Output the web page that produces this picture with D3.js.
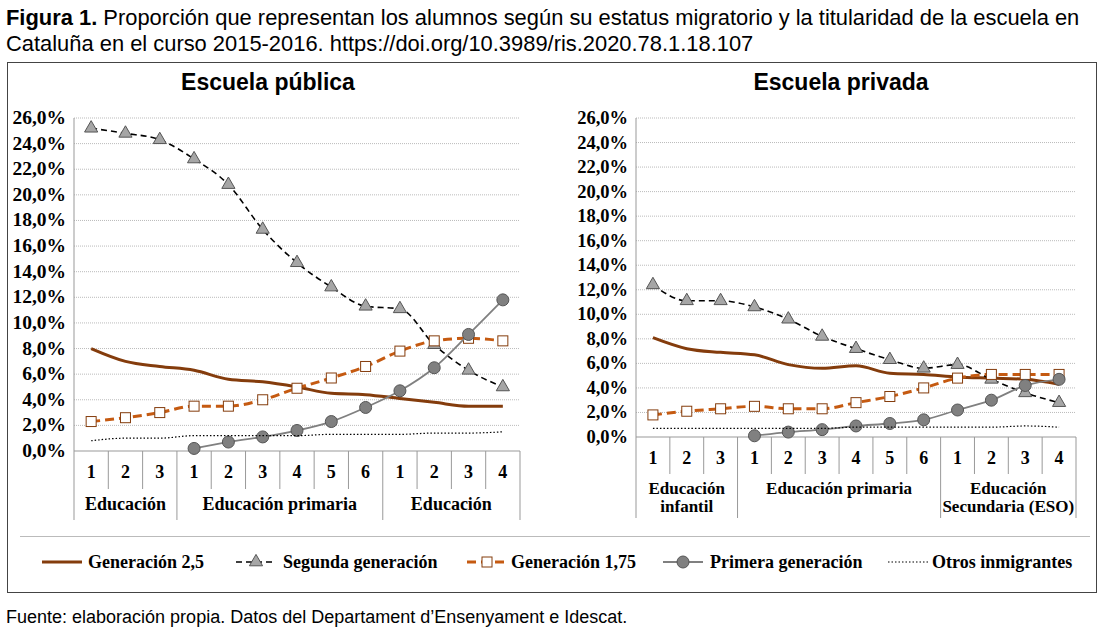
<!DOCTYPE html><html><head><meta charset="utf-8"><script src="https://cdn.jsdelivr.net/npm/d3@7"></script>
<style>body{margin:0;background:#fff}</style></head><body><svg id="c" width="1109" height="630"></svg>
<script>
const grades=["1","2","3","1","2","3","4","5","6","1","2","3","4"];
const yTicks=[0,2,4,6,8,10,12,14,16,18,20,22,24,26];
const pubGen25=[8.0,7.0,6.6,6.3,5.6,5.4,5.0,4.5,4.4,4.1,3.8,3.5,3.5];
const pubSegunda=[25.2,24.8,24.3,22.8,20.8,17.3,14.7,12.8,11.3,11.1,8.3,6.3,5.0];
const pubGen175=[2.3,2.6,3.0,3.5,3.5,4.0,4.9,5.7,6.6,7.8,8.6,8.8,8.6];
const pubPrimera=[null,null,null,0.2,0.7,1.1,1.6,2.3,3.4,4.7,6.5,9.1,11.8];
const pubOtros=[0.8,1.0,1.0,1.2,1.2,1.2,1.2,1.3,1.3,1.3,1.4,1.4,1.5];
const priGen25=[8.1,7.2,6.9,6.7,5.9,5.6,5.8,5.2,5.1,4.9,4.8,4.7,4.3];
const priSegunda=[12.4,11.1,11.1,10.6,9.6,8.2,7.2,6.3,5.6,5.9,4.7,3.6,2.8];
const priGen175=[1.8,2.1,2.3,2.5,2.3,2.3,2.8,3.3,4.0,4.8,5.1,5.1,5.1];
const priPrimera=[null,null,null,0.1,0.4,0.6,0.9,1.1,1.4,2.2,3.0,4.2,4.7];
const priOtros=[0.7,0.7,0.7,0.7,0.7,0.7,0.8,0.8,0.8,0.8,0.8,0.9,0.8];
const seriesNames=["Generación 2,5","Segunda generación","Generación 1,75","Primera generación","Otros inmigrantes"];

const svg=d3.select("#c");
const sans="'Liberation Sans',Arial,sans-serif", serif="'Liberation Serif','Times New Roman',serif";
svg.append("text").attr("x",6).attr("y",25).attr("font-family",sans).attr("font-size",21.9)
 .html('<tspan font-weight="bold">Figura 1.</tspan> Proporción que representan los alumnos según su estatus migratorio y la titularidad de la escuela en');
svg.append("text").attr("x",6).attr("y",51).attr("font-family",sans).attr("font-size",21.9)
 .text("Cataluña en el curso 2015-2016. https://doi.org/10.3989/ris.2020.78.1.18.107");
svg.append("text").attr("x",6).attr("y",623).attr("font-family",sans).attr("font-size",18)
 .text("Fuente: elaboración propia. Datos del Departament d’Ensenyament e Idescat.");
svg.append("rect").attr("x",7.5).attr("y",62.5).attr("width",1089).attr("height",530).attr("fill","none").attr("stroke","#444");
svg.append("line").attr("x1",20).attr("x2",1090).attr("y1",536.5).attr("y2",536.5).attr("stroke","#bbb");

const styles=[
 {c:"#843C0C",w:3,dash:null,m:null},
 {c:"#000",w:1.6,dash:"6,4",m:"tri"},
 {c:"#C55A11",w:3,dash:"9,5",m:"sq"},
 {c:"#808080",w:1.8,dash:null,m:"circ"},
 {c:"#000",w:1.2,dash:"1.5,2",m:null}];

function marker(g,type,x,y,s){
 if(type==="tri") g.append("path").attr("d",d3.symbol(d3.symbolTriangle,s||75)()).attr("transform",`translate(${x},${y})`).attr("fill","#a6a6a6").attr("stroke","#555");
 if(type==="sq") g.append("rect").attr("x",x-5).attr("y",y-5).attr("width",10).attr("height",10).attr("fill","#fff").attr("stroke","#843C0C");
 if(type==="circ") g.append("circle").attr("cx",x).attr("cy",y).attr("r",6).attr("fill","#808080").attr("stroke","#555");
}

function panel(o){
 const g=svg.append("g");
 const x=d3.scaleBand().domain(d3.range(13)).range([o.x0,o.x1]);
 const y=d3.scaleLinear().domain([0,26]).range([o.y0,o.y1]);
 g.append("text").attr("x",o.tx).attr("y",90).attr("text-anchor","middle").attr("font-family",sans).attr("font-weight","bold").attr("font-size",23).text(o.title);
 yTicks.forEach(t=>{
  if(t>0) g.append("line").attr("x1",o.x0).attr("x2",o.x1).attr("y1",y(t)).attr("y2",y(t)).attr("stroke","#bbb").attr("stroke-dasharray","1,1");
  g.append("text").attr("x",o.x0-8).attr("y",y(t)+6).attr("text-anchor","end").attr("font-family",serif).attr("font-weight","bold").attr("font-size",o.fs).text(t.toFixed(1).replace(".",",")+"%");
 });
 g.append("line").attr("x1",o.x0).attr("x2",o.x0).attr("y1",y(26)).attr("y2",o.sepEnd).attr("stroke","#999");
 g.append("line").attr("x1",o.x0).attr("x2",o.x1).attr("y1",y(0)).attr("y2",y(0)).attr("stroke","#999");
 d3.range(1,14).forEach(i=>{
  const xx=o.x0+i*x.bandwidth();
  const big=(i===3||i===9||i===13);
  g.append("line").attr("x1",xx).attr("x2",xx).attr("y1",y(0)).attr("y2",big?o.sepEnd:o.gradeEnd).attr("stroke","#999");
 });
 grades.forEach((t,i)=>g.append("text").attr("x",x(i)+x.bandwidth()/2).attr("y",o.gy).attr("text-anchor","middle").attr("font-family",serif).attr("font-weight","bold").attr("font-size",18).text(t));
 o.groups.forEach(gr=>{
  const cx=o.x0+(gr.a+gr.b)/2*x.bandwidth();
  gr.lines.forEach((l,k)=>g.append("text").attr("x",cx).attr("y",gr.y+k*18).attr("text-anchor","middle").attr("font-family",serif).attr("font-weight","bold").attr("font-size",o.gfs).text(l));
 });
 o.data.forEach((d,si)=>{
  const st=styles[si];
  const line=d3.line().defined(v=>v!=null).x((v,i)=>x(i)+x.bandwidth()/2).y(v=>y(v)).curve(d3.curveMonotoneX);
  const p=g.append("path").attr("d",line(d)).attr("fill","none").attr("stroke",st.c).attr("stroke-width",st.w);
  if(st.dash) p.attr("stroke-dasharray",st.dash);
  if(st.m) d.forEach((v,i)=>{ if(v!=null) marker(g,st.m,x(i)+x.bandwidth()/2,y(v)); });
 });
}
panel({title:"Escuela pública",tx:268,x0:74,x1:520,y0:451,y1:118,fs:19.5,gfs:18,gy:478,gradeEnd:489,sepEnd:520,
 groups:[{a:0,b:3,y:510,lines:["Educación"]},{a:3,b:9,y:510,lines:["Educación primaria"]},{a:9,b:13,y:510,lines:["Educación"]}],
 data:[pubGen25,pubSegunda,pubGen175,pubPrimera,pubOtros]});
panel({title:"Escuela privada",tx:841,x0:636,x1:1076,y0:437,y1:118,fs:18.5,gfs:17,gy:464,gradeEnd:474,sepEnd:518,
 groups:[{a:0,b:3,y:494,lines:["Educación","infantil"]},{a:3,b:9,y:494,lines:["Educación primaria"]},{a:9,b:13,y:494,lines:["Educación","Secundaria (ESO)"]}],
 data:[priGen25,priSegunda,priGen175,priPrimera,priOtros]});

const leg=[{x:42,tx:88},{x:236,tx:283},{x:467,tx:511},{x:663,tx:710},{x:888,tx:932}];
seriesNames.forEach((n,i)=>{
 const st=styles[i],L=leg[i],ly=562;
 const p=svg.append("line").attr("x1",L.x).attr("x2",L.x+40).attr("y1",ly).attr("y2",ly).attr("stroke",st.c).attr("stroke-width",st.w);
 if(st.dash) p.attr("stroke-dasharray",st.dash);
 if(st.m) marker(svg,st.m,L.x+20,ly);
 svg.append("text").attr("x",L.tx).attr("y",ly+6).attr("font-family",serif).attr("font-weight","bold").attr("font-size",18).text(n);
});
</script></body></html>
